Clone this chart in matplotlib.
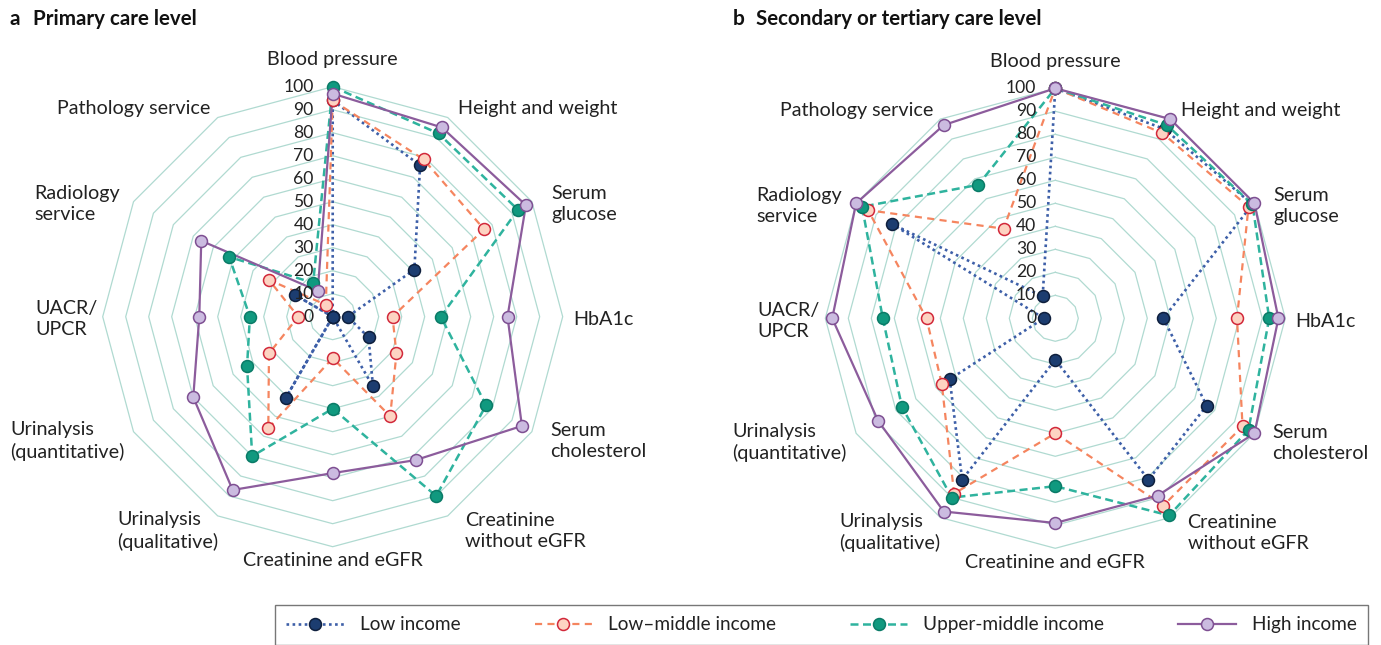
import numpy as np
import matplotlib
matplotlib.use("Agg")
import matplotlib.pyplot as plt
from matplotlib.lines import Line2D

plt.rcParams['font.family'] = ['Lato', 'DejaVu Sans']

# ---------------- data ----------------
categories = ["Blood pressure", "Height and weight", "Serum\nglucose", "HbA1c",
              "Serum\ncholesterol", "Creatinine\nwithout eGFR", "Creatinine and eGFR",
              "Urinalysis\n(qualitative)", "Urinalysis\n(quantitative)", "UACR/\nUPCR",
              "Radiology\nservice", "Pathology service"]
series_names = ["Low income", "Low\u2013middle income", "Upper-middle income", "High income"]
ticks = [0, 10, 20, 30, 40, 50, 60, 70, 80, 90, 100]

primary_low = [94, 76, 41, 6.5, 18, 35, 0, 41, 0, 0, 19, 0]
primary_lowmid = [94, 79, 76, 26, 32, 50, 18, 56, 32, 15, 32, 6]
primary_uppermid = [100, 92, 93, 47, 77, 90, 40, 70, 43, 36, 52, 17]
primary_high = [97, 95, 97, 76, 95, 72, 68, 87, 70, 58, 66, 13]

secondary_low = [100, 95, 99, 47, 76, 81, 18, 81, 53, 5, 82, 11]
secondary_lowmid = [100, 93, 97, 79, 94, 94, 50, 88, 57, 56, 94, 45]
secondary_uppermid = [100, 97, 99, 93, 97, 99, 73, 90, 77, 75, 97, 67]
secondary_high = [100, 100, 100, 97, 100, 89, 89, 97, 89, 97, 100, 97]

panel_titles = [("a", "Primary care level"), ("b", "Secondary or tertiary care level")]

# ---------------- styles ----------------
styles = [
    dict(color="#3d5fa8", ls=(0, (1, 1.3)), lw=1.9, mfc="#1c3d70", mec="#0e1f3d"),
    dict(color="#f5855f", ls=(0, (3.2, 2.4)), lw=1.6, mfc="#fdd3c2", mec="#d2283a"),
    dict(color="#2fb39e", ls=(0, (3.2, 1.8)), lw=1.8, mfc="#10997f", mec="#0a7b67"),
    dict(color="#8c5c9c", ls="-", lw=1.6, mfc="#cbbbe0", mec="#7e4f92"),
]
grid_color = "#b0dad1"
text_color = "#222222"

n = len(categories)
theta = np.deg2rad(90 - 360.0 / n * np.arange(n))

W, H = 1381, 645
fig = plt.figure(figsize=(W / 100, H / 100), dpi=100)

px_per_unit = 2.3
half = 300
centers = [(332.7, 316.7), (1055.3, 318.3)]

# label anchors (px offsets from centre, y up) and alignment
label_pos = [(0, 256.7, 'center'), (125.3, 208.2, 'left'), (218.3, 112.7, 'left'),
             (240.3, -3.3, 'left'), (217.3, -124.3, 'left'), (132.3, -214.3, 'left'),
             (0, -244.3, 'center'), (-215.7, -214.3, 'left'), (-322.7, -124.3, 'left'),
             (-297.7, -2.3, 'left'), (-298.7, 112.7, 'left'), (-275.7, 208.2, 'left')]

all_data = [[primary_low, primary_lowmid, primary_uppermid, primary_high],
            [secondary_low, secondary_lowmid, secondary_uppermid, secondary_high]]

lim = half / px_per_unit
for k, (cx, cy) in enumerate(centers):
    ax = fig.add_axes([(cx - half) / W, (H - cy - half) / H, 2 * half / W, 2 * half / H])
    ax.set_xlim(-lim, lim)
    ax.set_ylim(-lim, lim)
    ax.axis('off')
    # grid polygons
    for r in ticks[1:]:
        xs = np.append(r * np.cos(theta), r * np.cos(theta[0]))
        ys = np.append(r * np.sin(theta), r * np.sin(theta[0]))
        ax.plot(xs, ys, color=grid_color, lw=0.9, zorder=1)
    # series
    for vals, st in zip(all_data[k], styles):
        v = np.array(vals, dtype=float)
        xs = np.append(v * np.cos(theta), v[0] * np.cos(theta[0]))
        ys = np.append(v * np.sin(theta), v[0] * np.sin(theta[0]))
        ax.plot(xs, ys, color=st['color'], ls=st['ls'], lw=st['lw'], zorder=3)
        ax.plot(xs[:-1], ys[:-1], ls='none', marker='o', ms=8.6, mfc=st['mfc'],
                mec=st['mec'], mew=1.1, zorder=4)
    # radial tick labels
    for t in ticks:
        ax.text(-19.0 / px_per_unit, t, str(t), ha='right', va='center',
                fontsize=12.6, color=text_color, zorder=5)
    # category labels
    for lab, (dx, dy, ha) in zip(categories, label_pos):
        ax.text(dx / px_per_unit, dy / px_per_unit, lab, ha=ha, va='center',
                multialignment=ha, fontsize=14.2, color=text_color, linespacing=1.28)
    # titles
    letter, title = panel_titles[k]
    x0 = 10 if k == 0 else 733
    fig.text(x0 / W, 1 - 19 / H, letter, fontsize=15, fontweight='bold', va='center',
             ha='left', color='#111111')
    fig.text((x0 + 23) / W, 1 - 19 / H, title, fontsize=14.8, fontweight='bold', va='center',
             ha='left', color='#111111')

handles = [Line2D([], [], color=st['color'], ls=st['ls'], lw=st['lw'], marker='o', ms=8.6,
                  mfc=st['mfc'], mec=st['mec'], mew=1.1) for st in styles]
leg = fig.legend(handles, series_names, loc='upper center', bbox_to_anchor=(821.5 / W, 1 - 605 / H),
                 ncol=4, frameon=True, fancybox=False, edgecolor='#555555', fontsize=13.7,
                 handlelength=3.0, handletextpad=0.85, columnspacing=3.9, borderpad=0.6,
                 borderaxespad=0)
leg.get_frame().set_linewidth(1.0)
for t in leg.get_texts():
    t.set_color(text_color)

fig.savefig("out.png", dpi=100)
